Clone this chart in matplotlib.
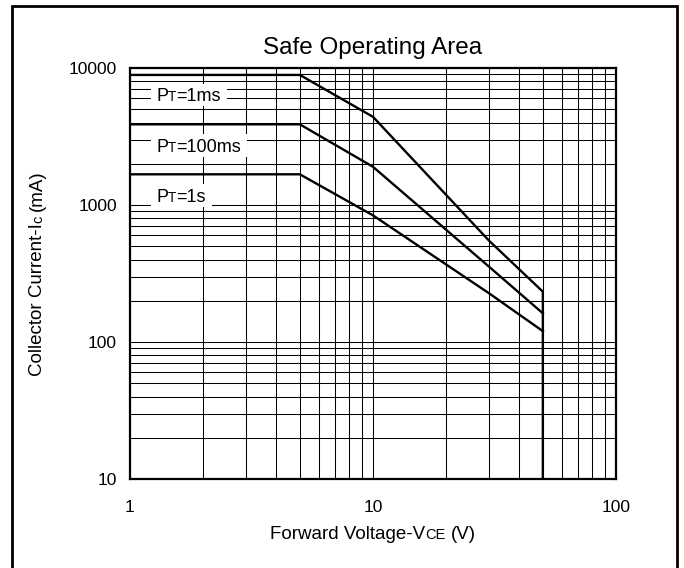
import matplotlib
matplotlib.use("Agg")
import matplotlib.pyplot as plt
from matplotlib.ticker import LogLocator, NullFormatter, FixedLocator, FixedFormatter
from matplotlib.transforms import IdentityTransform
from matplotlib.patches import Rectangle

# ---------------- data ----------------
x_1ms = [1, 5, 10, 30, 50, 50]
y_1ms = [8900, 8900, 4400, 550, 233, 10]

x_100ms = [1, 5, 10, 30, 50]
y_100ms = [3880, 3880, 1900, 355, 162]

x_1s = [1, 5, 10, 30, 50]
y_1s = [1675, 1675, 840, 227, 120]

label_texts = ["=1ms", "=100ms", "=1s"]
label_x = [1.28, 1.28, 1.28]
label_y = [6350, 2700, 1165]

x_ticks = [1, 10, 100]
x_tick_labels = ["1", "10", "100"]
y_ticks = [10, 100, 1000, 10000]
y_tick_labels = ["10", "100", "1000", "10000"]

title = "Safe Operating Area"

# ---------------- style ----------------
FONT = ["Liberation Sans", "DejaVu Sans"]
plt.rcParams["font.family"] = FONT

W, H = 684, 568
fig = plt.figure(figsize=(W / 100, H / 100), dpi=100)
ax = fig.add_axes([130 / W, 1 - 479 / H, (616 - 130) / W, (479 - 68) / H])

ax.set_xscale("log")
ax.set_yscale("log")
ax.set_xlim(1, 100)
ax.set_ylim(10, 10000)

ax.xaxis.set_major_locator(FixedLocator(x_ticks))
ax.xaxis.set_major_formatter(FixedFormatter(x_tick_labels))
ax.yaxis.set_major_locator(FixedLocator(y_ticks))
ax.yaxis.set_major_formatter(FixedFormatter(y_tick_labels))
ax.xaxis.set_minor_locator(LogLocator(base=10, subs=range(2, 10)))
ax.yaxis.set_minor_locator(LogLocator(base=10, subs=range(2, 10)))
ax.xaxis.set_minor_formatter(NullFormatter())
ax.yaxis.set_minor_formatter(NullFormatter())

ax.tick_params(which="both", length=0)
ax.tick_params(axis="x", pad=15, labelsize=12.5)
ax.tick_params(axis="y", pad=9.5, labelsize=12.5)
ax.grid(which="both", color="black", lw=0.75)
ax.set_axisbelow(True)
for s in ax.spines.values():
    s.set_linewidth(1.6)
    s.set_color("black")

for xs, ys in [(x_1ms, y_1ms), (x_100ms, y_100ms), (x_1s, y_1s)]:
    ax.plot(xs, ys, color="black", lw=1.7, solid_joinstyle="miter", zorder=3)

renderer = fig.canvas.get_renderer()


def measure(s, size):
    t = fig.text(0, 0, s, fontsize=size, family=FONT)
    w = t.get_window_extent(renderer).width
    t.remove()
    return w


def rich(x, y, pieces, ha="center", rotation=0, zorder=6):
    """pieces: list of (text, size, gap_before_px). (x, y) is baseline anchor in pixels."""
    widths = [measure(s, sz) for s, sz, g in pieces]
    total = sum(widths) + sum(g for _, _, g in pieces)
    pos = x - total / 2 if ha == "center" else x
    start = pos
    for (s, sz, g), w in zip(pieces, widths):
        pos += g
        if rotation == 0:
            fig.text(pos, y, s, fontsize=sz, family=FONT, transform=IdentityTransform(),
                     ha="left", va="baseline", zorder=zorder)
        else:
            fig.text(y, pos, s, fontsize=sz, family=FONT, transform=IdentityTransform(),
                     ha="left", va="baseline", rotation=90, rotation_mode="anchor", zorder=zorder)
        pos += w
    return start, total


sp_main = measure("x x", 13.5) - measure("xx", 13.5)

# Title
fig.text(373, H - 54, title, fontsize=17.5, family=FONT, transform=IdentityTransform(),
         ha="center", va="baseline")

# X label
rich(373, H - 539, [("Forward Voltage-V", 13.5, 0), ("CE", 10.5, 0), ("(V)", 13.5, sp_main)])

# Y label (rotated)
rich(H - 273, 42, [("Collector Current-I", 13.5, 0), ("c", 10.5, 0), ("(mA)", 13.5, sp_main)],
     rotation=90)

# Curve labels with white boxes
lab_size = 13
cap = lab_size * 100 / 72 * 0.716
for txt, lx, ly in zip(label_texts, label_x, label_y):
    px, py = ax.transData.transform((lx, ly))
    base = py - cap / 2
    start, total = rich(px, base, [("P", lab_size, 0), ("T", 9.8, 0), (txt, lab_size, 0)], ha="left")
    rect = Rectangle((start - 5, base - 5), total + 11, cap + 10, transform=IdentityTransform(),
                     facecolor="white", edgecolor="none", zorder=5)
    fig.patches.append(rect)

# Outer frame
frame = Rectangle((12 / W, -0.02), (677 - 12) / W, (H - 6) / H + 0.02, transform=fig.transFigure,
                  facecolor="none", edgecolor="black", lw=2.0, zorder=10)
fig.patches.append(frame)

fig.savefig("out.png", dpi=100)
